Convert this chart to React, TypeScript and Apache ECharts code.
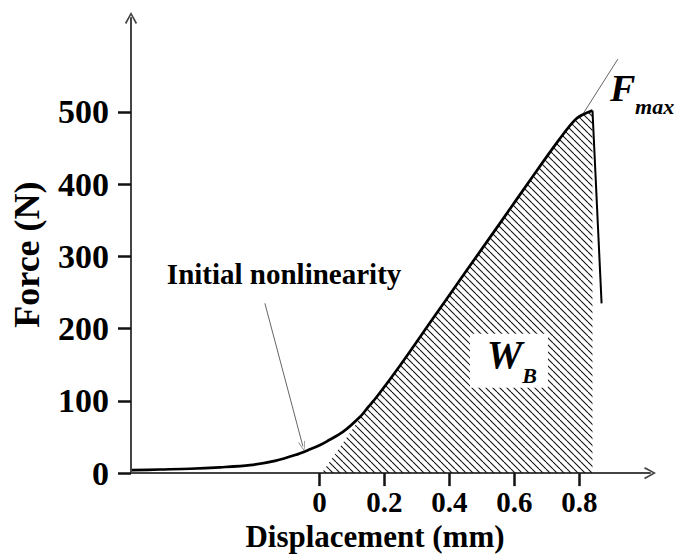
import React, { useEffect, useRef } from 'react';
import * as echarts from 'echarts';

// ---- data ----
// loading curve up to the peak
const curveDisp = [-0.577, -0.491, -0.398, -0.306, -0.214, -0.137, -0.075, -0.029, 0.002, 0.023, 0.072, 0.125, 0.149, 0.177, 0.248, 0.349, 0.452, 0.554, 0.655, 0.738, 0.791, 0.84];
const curveForce = [4, 5, 6, 8, 11, 17, 25, 33, 39, 44, 57, 78, 91, 106, 149, 214, 280, 345, 410, 462, 491, 502];
// drop after the peak
const dropDisp = [0.84, 0.868];
const dropForce = [502, 235];

// hatched work area W_B: a triangle on the left (offset line) and the area under the curve
const hatchTriDisp = [0.007, 0.149];
const hatchTriForce = [0, 91];
const hatchFrom = 0.149;
const hatchTo = 0.84;

const tangentDisp = [0.802, 0.918];
const tangentForce = [491, 573];

const arrowStart = [-0.168, 235];
const arrowEnd = [-0.051, 37];

const xTicks = [0, 0.2, 0.4, 0.6, 0.8];
const yTicks = [0, 100, 200, 300, 400, 500];

// annotation anchors (data space)
const labelInitial = { text: 'Initial nonlinearity', at: [-0.109, 276] };
const labelF = { text: 'F', at: [0.894, 533] };
const labelMax = { text: 'max', at: [0.971, 508] };
const labelW = { text: 'W', at: [0.515, 164] };
const labelB = { text: 'B', at: [0.624, 135] };
const boxWB = [[0.463, 193], [0.703, 118]];

const SERIF = '"Liberation Serif", "Times New Roman", Times, serif';
const CHEVRON = 'path://M5,0 L10,9 L8.8,9.8 L5,2.6 L1.2,9.8 L0,9 Z';
const ARROWHEAD = 'path://M5,0 L10,10 L9.2,10.4 L5,1.6 L0.8,10.4 L0,10 Z';

function makeHatch(): any {
  const s = 7;
  const c = document.createElement('canvas');
  c.width = s;
  c.height = s;
  const ctx = c.getContext('2d')!;
  ctx.strokeStyle = '#111';
  ctx.lineWidth = 1.1;
  for (const k of [-1, 0, 1]) {
    ctx.beginPath();
    ctx.moveTo(k * s, 0);
    ctx.lineTo(k * s + s, s);
    ctx.stroke();
  }
  return { image: c.toDataURL(), repeat: 'repeat', imageWidth: s, imageHeight: s };
}

const zip = (a: number[], b: number[]) => a.map((v, i) => [v, b[i]]);

export default function App() {
  const ref = useRef<HTMLDivElement>(null);
  useEffect(() => {
    document.body.style.margin = '0';
    if (!ref.current) return;
    const chart = echarts.init(ref.current, null, { renderer: 'svg' });
    const hatch = makeHatch();
    const curve = zip(curveDisp, curveForce);
    const hatchTop = curve.filter((p) => p[0] >= hatchFrom - 1e-9 && p[0] <= hatchTo + 1e-9);
    const SMOOTH = 0.3;
    const option: any = {
      animation: false,
      tooltip: { show: false },
      grid: { left: 131, right: 26, top: 18, bottom: 78 },
      xAxis: {
        type: 'value',
        min: -0.58,
        max: 1.017,
        axisLine: {
          show: true,
          onZero: false,
          symbol: ['none', CHEVRON],
          symbolSize: [13, 12],
          lineStyle: { color: '#444', width: 2 },
        },
        axisTick: { show: true, customValues: xTicks, length: 13, lineStyle: { color: '#111', width: 2.5 } },
        axisLabel: {
          customValues: xTicks,
          formatter: (v: number) => String(v),
          fontSize: 29,
          fontWeight: 'bold',
          fontFamily: SERIF,
          color: '#000',
          margin: 14,
        },
        splitLine: { show: false },
        name: 'Displacement (mm)',
        nameLocation: 'middle',
        nameGap: 45,
        nameTextStyle: {
          fontSize: 31,
          lineHeight: 31,
          fontWeight: 'bold',
          fontFamily: SERIF,
          color: '#000',
          padding: [0, 31, 0, 0],
        },
      },
      yAxis: {
        type: 'value',
        min: 0,
        max: 630,
        axisLine: {
          show: true,
          onZero: false,
          symbol: ['none', CHEVRON],
          symbolSize: [13, 12],
          lineStyle: { color: '#444', width: 2 },
        },
        axisTick: { show: true, customValues: yTicks, length: 13, lineStyle: { color: '#111', width: 2.5 } },
        axisLabel: {
          customValues: yTicks,
          fontSize: 34,
          fontWeight: 'bold',
          fontFamily: SERIF,
          color: '#000',
          margin: 22,
        },
        splitLine: { show: false },
        name: 'Force (N)',
        nameLocation: 'middle',
        nameGap: 86,
        nameTextStyle: {
          fontSize: 36,
          lineHeight: 36,
          fontWeight: 'bold',
          fontFamily: SERIF,
          color: '#000',
          padding: [0, 18, 0, 0],
        },
      },
      series: [
        {
          type: 'line',
          data: zip(hatchTriDisp, hatchTriForce),
          symbol: 'none',
          silent: true,
          lineStyle: { width: 0, opacity: 0 },
          areaStyle: { color: hatch, opacity: 1 },
          z: 1,
        },
        {
          type: 'line',
          data: hatchTop,
          symbol: 'none',
          silent: true,
          smooth: SMOOTH,
          lineStyle: { width: 0, opacity: 0 },
          areaStyle: { color: hatch, opacity: 1 },
          z: 1,
        },
        {
          type: 'line',
          data: curve,
          symbol: 'none',
          silent: true,
          smooth: SMOOTH,
          lineStyle: { color: '#000', width: 2.7 },
          z: 4,
        },
        {
          type: 'line',
          data: zip(dropDisp, dropForce),
          symbol: 'none',
          silent: true,
          lineStyle: { color: '#000', width: 2 },
          z: 4,
        },
        {
          type: 'line',
          data: zip(tangentDisp, tangentForce),
          symbol: 'none',
          silent: true,
          lineStyle: { color: '#666', width: 1 },
          z: 3,
          markLine: {
            silent: true,
            symbol: ['none', ARROWHEAD],
            symbolSize: [7, 10],
            label: { show: false },
            lineStyle: { color: '#666', width: 1, type: 'solid' },
            emphasis: { disabled: true },
            data: [[{ coord: arrowStart }, { coord: arrowEnd }]],
          },
        },
      ],
    };
    chart.setOption(option);

    const px = (d: number[]) => chart.convertToPixel({ gridIndex: 0 }, d) as number[];
    const b0 = px(boxWB[0]);
    const b1 = px(boxWB[1]);
    const txt = (l: { text: string; at: number[] }, size: number, italic: boolean, align: string) => {
      const p = px(l.at);
      return {
        type: 'text',
        x: p[0],
        y: p[1],
        z: 60,
        silent: true,
        style: {
          text: l.text,
          fill: '#000',
          fontSize: size,
          fontWeight: 'bold',
          fontStyle: italic ? 'italic' : 'normal',
          fontFamily: SERIF,
          align,
          textAlign: align,
          verticalAlign: 'middle',
          textVerticalAlign: 'middle',
        },
      };
    };
    chart.setOption({
      graphic: [
        {
          type: 'rect',
          z: 50,
          silent: true,
          shape: { x: b0[0], y: b0[1], width: b1[0] - b0[0], height: b1[1] - b0[1] },
          style: { fill: '#fff' },
        },
        txt(labelW, 40, true, 'left'),
        txt(labelB, 22, true, 'left'),
        txt(labelF, 38, true, 'left'),
        txt(labelMax, 22, true, 'left'),
        txt(labelInitial, 29, false, 'center'),
      ],
    });
    return () => chart.dispose();
  }, []);
  return <div ref={ref} style={{ width: 676, height: 557 }} />;
}
